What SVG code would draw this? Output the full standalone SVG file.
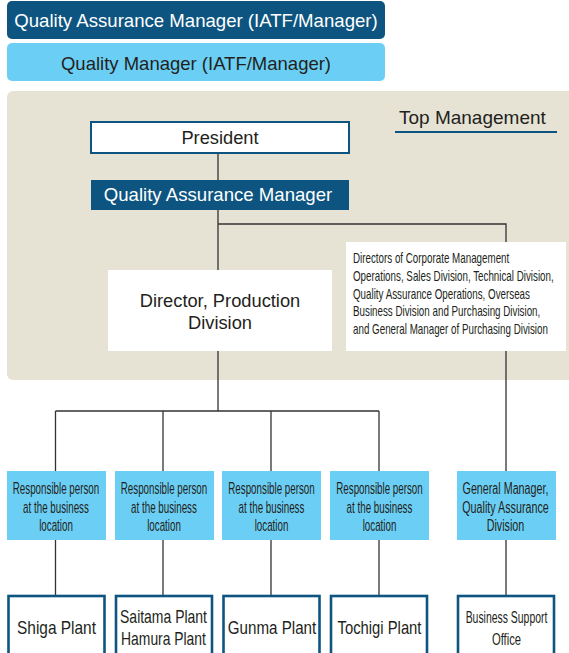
<svg xmlns="http://www.w3.org/2000/svg" width="569" height="653" viewBox="0 0 569 653">
<style>
.t{font-family:"Liberation Sans",Arial,sans-serif;fill:#231f20}
.w{fill:#ffffff}
.c{text-anchor:middle}
.ln{stroke:#333333;stroke-width:1.3;fill:none}
.lb{fill:#6bcff5}
.db{fill:#0d5580}
.plant{fill:#ffffff;stroke:#0d5580;stroke-width:2.6}
.s{font-size:15.8px}
.d{font-size:14px}
</style>
<rect width="569" height="653" fill="#ffffff"/>
<g id="qam-iatf"><rect x="7" y="1" width="378" height="38" rx="5" class="db"/><text x="196" y="27" class="t w c" font-size="18.6">Quality Assurance Manager (IATF/Manager)</text></g>
<g id="qm-iatf"><rect x="7" y="43" width="378" height="38" rx="5" class="lb"/><text x="196" y="70" class="t c" font-size="18.5">Quality Manager (IATF/Manager)</text></g>
<g id="top-management"><rect x="7" y="91" width="600" height="289" rx="6" fill="#e6e3d5"/><text x="399" y="124" class="t" font-size="19">Top Management</text><line x1="395" y1="132" x2="557" y2="132" stroke="#0d5580" stroke-width="2"/></g>
<g id="connectors">
<path class="ln" d="M218 153V180M218 210V270M218 224H506V242M506 351V471M506 540V596M218 351V411M55.5 411H379M55.5 411V471M163 411V471M271 411V471M379 411V471M55.5 540V596M163 540V596M271 540V596M379 540V596"/>
</g>
<g id="president"><rect x="91" y="122" width="258" height="31" fill="#ffffff" stroke="#0d5580" stroke-width="2"/><text x="220" y="144" class="t c" font-size="18.3">President</text></g>
<g id="qa-manager"><rect x="91" y="180" width="258" height="30" class="db"/><text x="218" y="201" class="t w c" font-size="18.6">Quality Assurance Manager</text></g>
<g id="director-production"><rect x="108" y="270" width="224" height="81" fill="#ffffff"/><text x="220" y="307" class="t c" font-size="18.3">Director, Production</text><text x="220" y="329" class="t c" font-size="18.3">Division</text></g>
<g id="directors"><rect x="346" y="242" width="220" height="109" fill="#ffffff"/>
<text transform="translate(353 263) scale(0.7 1)" class="t d">Directors of Corporate Management</text>
<text transform="translate(353 281) scale(0.7 1)" class="t d">Operations, Sales Division, Technical Division,</text>
<text transform="translate(353 298.5) scale(0.7 1)" class="t d">Quality Assurance Operations, Overseas</text>
<text transform="translate(353 316) scale(0.7 1)" class="t d">Business Division and Purchasing Division,</text>
<text transform="translate(353 334) scale(0.7 1)" class="t d">and General Manager of Purchasing Division</text>
</g>
<g id="resp-1"><rect x="7" y="471" width="99" height="69" class="lb"/>
<text transform="translate(56 494) scale(0.62 1)" class="t c s">Responsible person</text>
<text transform="translate(56 512.5) scale(0.62 1)" class="t c s">at the business</text>
<text transform="translate(56 531) scale(0.62 1)" class="t c s">location</text></g>
<g id="resp-2"><rect x="115" y="471" width="99" height="69" class="lb"/>
<text transform="translate(164 494) scale(0.62 1)" class="t c s">Responsible person</text>
<text transform="translate(164 512.5) scale(0.62 1)" class="t c s">at the business</text>
<text transform="translate(164 531) scale(0.62 1)" class="t c s">location</text></g>
<g id="resp-3"><rect x="222" y="471" width="99" height="69" class="lb"/>
<text transform="translate(271.5 494) scale(0.62 1)" class="t c s">Responsible person</text>
<text transform="translate(271.5 512.5) scale(0.62 1)" class="t c s">at the business</text>
<text transform="translate(271.5 531) scale(0.62 1)" class="t c s">location</text></g>
<g id="resp-4"><rect x="330" y="471" width="99" height="69" class="lb"/>
<text transform="translate(379.5 494) scale(0.62 1)" class="t c s">Responsible person</text>
<text transform="translate(379.5 512.5) scale(0.62 1)" class="t c s">at the business</text>
<text transform="translate(379.5 531) scale(0.62 1)" class="t c s">location</text></g>
<g id="gm-qa"><rect x="457" y="471" width="99" height="69" class="lb"/>
<text transform="translate(505.5 494) scale(0.68 1)" class="t c s">General Manager,</text>
<text transform="translate(505.5 512.5) scale(0.68 1)" class="t c s">Quality Assurance</text>
<text transform="translate(505.5 531) scale(0.68 1)" class="t c s">Division</text></g>
<g id="shiga"><rect x="8.5" y="596" width="96" height="64" class="plant"/><text transform="translate(56.5 634) scale(0.835 1)" class="t c" font-size="18.5">Shiga Plant</text></g>
<g id="saitama-hamura"><rect x="116" y="596" width="96" height="64" class="plant"/><text transform="translate(163.5 623) scale(0.755 1)" class="t c" font-size="18.5">Saitama Plant</text><text transform="translate(163.5 645) scale(0.75 1)" class="t c" font-size="18.5">Hamura Plant</text></g>
<g id="gunma"><rect x="223.5" y="596" width="96" height="64" class="plant"/><text transform="translate(272 634) scale(0.82 1)" class="t c" font-size="18.5">Gunma Plant</text></g>
<g id="tochigi"><rect x="331" y="596" width="96" height="64" class="plant"/><text transform="translate(379.5 634) scale(0.8 1)" class="t c" font-size="18.5">Tochigi Plant</text></g>
<g id="business-support"><rect x="458" y="596" width="96" height="64" class="plant"/><text transform="translate(506.5 623) scale(0.614 1)" class="t c" font-size="17">Business Support</text><text transform="translate(506.5 645) scale(0.66 1)" class="t c" font-size="17">Office</text></g>
</svg>
